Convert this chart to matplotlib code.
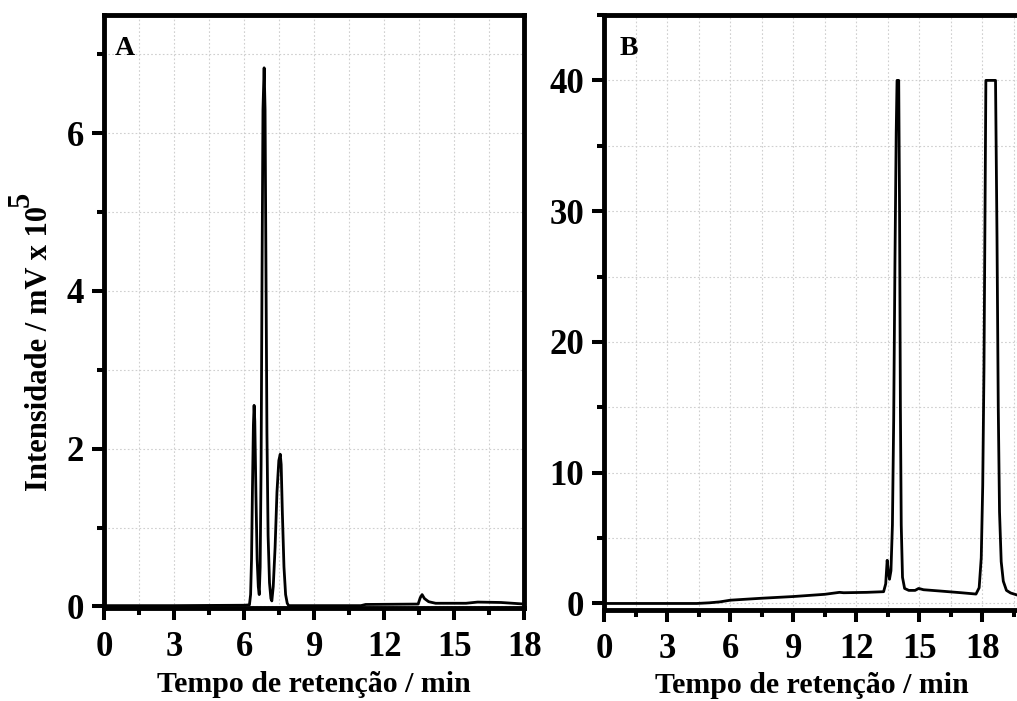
import numpy as np
import matplotlib
matplotlib.use('Agg')
import matplotlib.pyplot as plt
from matplotlib.ticker import MultipleLocator

plt.rcParams['font.family'] = ['Liberation Serif', 'DejaVu Serif']
plt.rcParams['font.weight'] = 'bold'

# ===== Panel A data (intensity in mV x 10^5) =====
t_a = [0.0, 3.0, 6.0, 6.22, 6.27, 6.31, 6.35, 6.39, 6.42, 6.45, 6.50, 6.55, 6.60, 6.64,
       6.68, 6.72, 6.76, 6.80, 6.85, 6.89, 6.93, 6.97, 7.02, 7.08, 7.14, 7.18,
       7.24, 7.32, 7.40, 7.48, 7.54, 7.58, 7.63, 7.70, 7.77, 7.84, 7.90, 8.05,
       11.0, 11.2, 13.45, 13.54, 13.62, 13.72, 13.90, 14.2, 15.5, 16.0, 17.0, 18.0]
y_a = [0.01, 0.01, 0.015, 0.02, 0.15, 0.6, 1.5, 2.3, 2.55, 2.35, 1.4, 0.6, 0.25, 0.15,
       0.5, 1.8, 4.2, 6.3, 6.83, 6.3, 4.2, 2.2, 0.9, 0.3, 0.1, 0.07,
       0.25, 0.75, 1.45, 1.85, 1.93, 1.8, 1.2, 0.5, 0.15, 0.04, 0.01, 0.01,
       0.01, 0.025, 0.03, 0.11, 0.15, 0.1, 0.06, 0.04, 0.04, 0.055, 0.05, 0.03]

# ===== Panel B data =====
t_b = [0.0, 3.0, 4.4, 5.0, 5.5, 6.0, 7.5, 9.0, 10.5, 11.2, 11.4, 12.5, 13.3, 13.4,
       13.47, 13.53, 13.58, 13.65, 13.72, 13.78, 13.84, 13.90, 13.94, 14.02, 14.06,
       14.10, 14.14, 14.20, 14.30, 14.5, 14.8, 14.97, 15.2, 16.0, 17.0, 17.7, 17.85,
       17.95, 18.02, 18.08, 18.13, 18.17, 18.63, 18.70, 18.76, 18.82, 18.90, 19.0,
       19.15, 19.35, 19.65, 20.0]
y_b = [0.0, 0.0, 0.0, 0.05, 0.12, 0.25, 0.4, 0.53, 0.7, 0.85, 0.82, 0.85, 0.9, 1.5,
       3.3, 2.4, 1.85, 2.5, 6.0, 14.0, 26.0, 36.0, 40.0, 40.0, 30.0,
       15.0, 6.0, 2.0, 1.15, 1.0, 1.0, 1.15, 1.05, 0.95, 0.82, 0.72, 1.2,
       3.5, 9.0, 18.0, 30.0, 40.0, 40.0, 28.0, 15.0, 7.0, 3.2, 1.7,
       1.0, 0.8, 0.65, 0.62]

W, H = 1017, 701
fig = plt.figure(figsize=(W / 100, H / 100), dpi=100)

# pixel layout: A spans x 104-524, y 15-608 ; B starts at x 604, y 15-610
ax1 = fig.add_axes([104.3 / W, 93 / H, 420 / W, 593 / H])
ax2 = fig.add_axes([604.3 / W, 91 / H, 420 / W, 595 / H])


def style(ax, xlim, ylim, ymaj, ymin):
    ax.set_xlim(*xlim)
    ax.set_ylim(*ylim)
    ax.xaxis.set_major_locator(MultipleLocator(3))
    ax.xaxis.set_minor_locator(MultipleLocator(1.5))
    ax.yaxis.set_major_locator(MultipleLocator(ymaj))
    ax.yaxis.set_minor_locator(MultipleLocator(ymin))
    ax.grid(True, which='both', color='#cfcfcf', linestyle=(0, (1.5, 2)), linewidth=0.8)
    ax.set_axisbelow(True)
    for s in ax.spines.values():
        s.set_linewidth(3.5)
    ax.tick_params(which='major', direction='out', length=8.5, width=2.9,
                   labelsize=25, pad=6)
    ax.tick_params(axis='x', which='major', pad=8)
    ax.tick_params(which='minor', direction='out', length=5, width=2.9)
    ax.tick_params(top=False, right=False)
    ax.set_xlabel('Tempo de retenção / min', fontsize=21.5, fontweight='bold')


ax1.plot(t_a, y_a, color='black', linewidth=2.0)
style(ax1, (0, 18), (-0.02, 7.5), 2, 1)
ax1.xaxis.set_label_coords(0.5, -0.107)
ax1.text(0.0255, 0.9325, 'A', transform=ax1.transAxes, fontsize=20,
         fontweight='bold', va='baseline', ha='left')

ax2.plot(t_b, y_b, color='black', linewidth=2.0)
style(ax2, (0, 20), (-0.5, 45), 10, 5)
ax2.set_xticks([0, 3, 6, 9, 12, 15, 18])
ax2.xaxis.set_label_coords(0.494, -0.104)
ax2.text(0.037, 0.9328, 'B', transform=ax2.transAxes, fontsize=20,
         fontweight='bold', va='baseline', ha='left')

# y label with full-size raised exponent
ylab = fig.text(53.7 / W, 352.5 / H, 'Intensidade / mV x 10', rotation=90,
                ha='right', va='center', fontsize=22, fontweight='bold')
fig.canvas.draw()
plt.annotate('5', xy=(0.0, 1.0), xycoords=ylab, xytext=(-13, -1),
             textcoords='offset points', rotation=90, ha='left', va='bottom',
             fontsize=22, fontweight='bold', annotation_clip=False)

fig.savefig('out.png', dpi=100)
